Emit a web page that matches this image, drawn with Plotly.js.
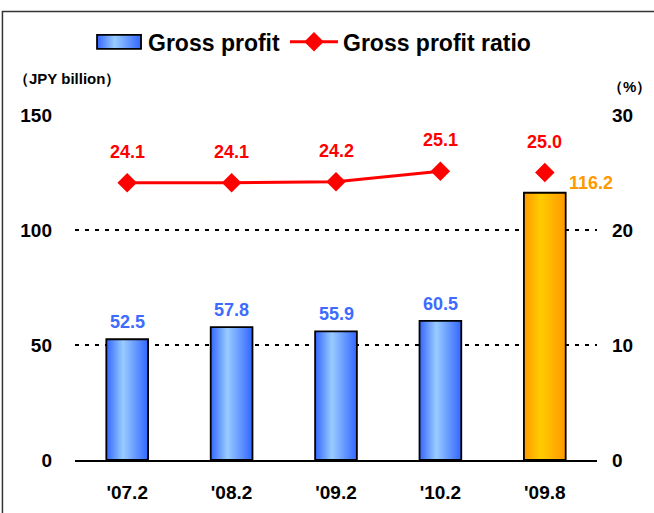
<!DOCTYPE html>
<html>
<head>
<meta charset="utf-8">
<script src="https://cdn.plot.ly/plotly-3.0.1.min.js"></script>
<style>
html,body{margin:0;padding:0;background:#fff;}
#chart{width:654px;height:513px;}
</style>
</head>
<body>
<div id="chart"></div>
<script>
// ---- data ----
const categories = ["'07.2", "'08.2", "'09.2", "'10.2", "'09.8"];
const grossProfit = [52.5, 57.8, 55.9, 60.5, 116.2];
const profitRatio = [24.1, 24.1, 24.2, 25.1, 25.0];
const leftTicks = [0, 50, 100, 150];
const rightTicks = [0, 10, 20, 30];

// ---- style ----
const FONT = '"Liberation Sans", Arial, sans-serif';
const BLUE = '#3366ff', BLUE_TXT = '#3d6bff', ORANGE = '#ff9900', ORANGE_TXT = '#ff9900', RED = '#ff0000';
const nSeries = categories.length;
const lastIdx = nSeries - 1;
const barColors = categories.map((c, i) => i === lastIdx ? ORANGE : BLUE);
const labelColors = categories.map((c, i) => i === lastIdx ? ORANGE_TXT : BLUE_TXT);

const traces = [
  {
    type: 'bar', name: 'Gross profit', x: categories, y: grossProfit,
    width: 0.4,
    marker: {color: barColors, line: {color: '#000', width: 1.8}},
    hoverinfo: 'skip'
  },
  {
    type: 'scatter', mode: 'lines+markers', name: 'Gross profit ratio',
    x: categories.slice(0, lastIdx), y: profitRatio.slice(0, lastIdx), yaxis: 'y2',
    line: {color: RED, width: 3},
    marker: {symbol: 'diamond', size: 15, color: RED},
    hoverinfo: 'skip'
  },
  {
    type: 'scatter', mode: 'markers', name: 'Gross profit ratio', showlegend: false,
    x: categories.slice(lastIdx), y: profitRatio.slice(lastIdx), yaxis: 'y2',
    marker: {symbol: 'diamond', size: 15, color: RED},
    hoverinfo: 'skip'
  }
];

const annotations = [];
categories.forEach((c, i) => {
  const isLast = i === lastIdx;
  annotations.push({
    x: c, y: grossProfit[i], xref: 'x', yref: 'y',
    text: grossProfit[i].toFixed(1), showarrow: false,
    xshift: isLast ? 46 : 0, yshift: isLast ? 10 : 17,
    font: {family: FONT, size: 18, color: labelColors[i], weight: 'bold'}
  });
  annotations.push({
    x: c, y: profitRatio[i], xref: 'x', yref: 'y2',
    text: profitRatio[i].toFixed(1), showarrow: false, yshift: 31,
    font: {family: FONT, size: 18, color: RED, weight: 'bold'}
  });
});
annotations.push({
  xref: 'paper', yref: 'paper', x: -0.121, y: 1.107, xanchor: 'left', yanchor: 'middle',
  text: '（JPY billion）', showarrow: false,
  font: {family: FONT, size: 15, color: '#000', weight: 'bold'}
});
annotations.push({
  xref: 'paper', yref: 'paper', x: 1.017, y: 1.084, xanchor: 'left', yanchor: 'middle',
  text: '（%）', showarrow: false,
  font: {family: FONT, size: 15, color: '#000', weight: 'bold'}
});

const layout = {
  width: 654, height: 513,
  margin: {l: 75, r: 57, t: 115, b: 53},
  paper_bgcolor: '#fff', plot_bgcolor: '#fff',
  showlegend: true,
  legend: {
    orientation: 'h', x: 0.456, y: 1.212, xanchor: 'center', yanchor: 'middle',
    font: {family: FONT, size: 23, color: '#000', weight: 'bold'},
    itemwidth: 48, traceorder: 'normal', bgcolor: 'rgba(0,0,0,0)'
  },
  font: {family: FONT, color: '#000'},
  xaxis: {
    type: 'category', range: [-0.5, nSeries - 0.5], fixedrange: true,
    showline: true, linecolor: '#000', linewidth: 2, showgrid: false, zeroline: false,
    ticks: '', ticklabelstandoff: 14,
    tickfont: {family: FONT, size: 19, color: '#000', weight: 'bold'}
  },
  yaxis: {
    range: [0, 150], tickvals: leftTicks, ticktext: leftTicks.map(String),
    showgrid: true, gridcolor: '#000', gridwidth: 1.5, griddash: '4px,6px',
    zeroline: false, showline: false, ticks: '', ticklabelstandoff: 22,
    tickfont: {family: FONT, size: 19, color: '#000', weight: 'bold'}
  },
  yaxis2: {
    range: [0, 30], overlaying: 'y', side: 'right', tickvals: rightTicks, ticktext: rightTicks.map(String),
    showgrid: false, zeroline: false, showline: false, ticks: '', ticklabelstandoff: 14,
    tickfont: {family: FONT, size: 19, color: '#000', weight: 'bold'}
  },
  annotations: annotations,
  shapes: [{
    type: 'rect', xref: 'paper', yref: 'paper', layer: 'below',
    x0: -0.139, x1: 1.2, y0: -0.2, y1: 1.3,
    line: {color: '#333', width: 1.5}, fillcolor: 'rgba(0,0,0,0)'
  }]
};

function addGradient(defs, id, edge, mid) {
  const ns = 'http://www.w3.org/2000/svg';
  const g = document.createElementNS(ns, 'linearGradient');
  g.setAttribute('id', id);
  g.setAttribute('x1', '0'); g.setAttribute('x2', '1');
  g.setAttribute('y1', '0'); g.setAttribute('y2', '0');
  [[0, edge], [0.4, mid], [1, edge]].forEach(([o, c]) => {
    const s = document.createElementNS(ns, 'stop');
    s.setAttribute('offset', o); s.setAttribute('stop-color', c);
    g.appendChild(s);
  });
  defs.appendChild(g);
}

Plotly.newPlot('chart', traces, layout, {staticPlot: true, displayModeBar: false}).then(gd => {
  const svg = gd.querySelector('svg.main-svg');
  let defs = svg.querySelector('defs');
  if (!defs) { defs = document.createElementNS('http://www.w3.org/2000/svg', 'defs'); svg.insertBefore(defs, svg.firstChild); }
  addGradient(defs, 'gBlue', '#3366ff', '#99ccff');
  addGradient(defs, 'gOrange', '#ff9900', '#ffcc00');
  gd.querySelectorAll('.barlayer .point path').forEach((p, i) => {
    p.style.fill = i === lastIdx ? 'url(#gOrange)' : 'url(#gBlue)';
  });
  const lb = gd.querySelector('.legend path.legendbar, .legend .legendpoints path');
  if (lb) {
    lb.setAttribute('d', 'M22,7H-22V-7H22Z');
    lb.style.fill = 'url(#gBlue)';
  }
});
</script>
</body>
</html>
